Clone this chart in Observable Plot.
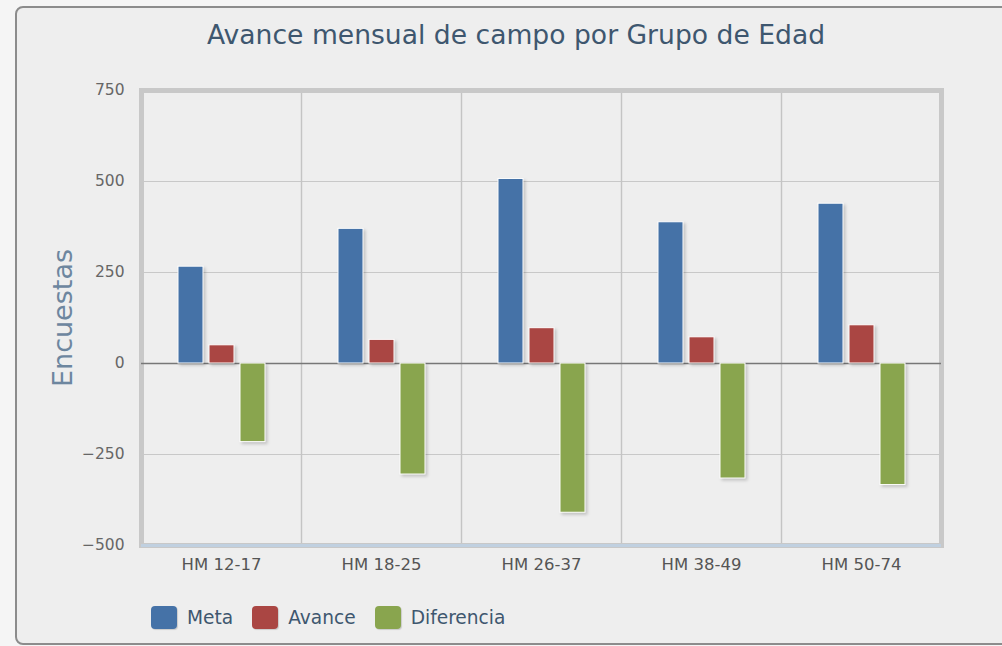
<!DOCTYPE html>
<html>
<head>
<meta charset="utf-8">
<script src="https://cdn.jsdelivr.net/npm/d3@7"></script>
<script src="https://cdn.jsdelivr.net/npm/@observablehq/plot@0.6"></script>
<style>
  html, body { margin: 0; padding: 0; width: 1002px; height: 646px; overflow: hidden; background: #f5f5f5; }
  #panel { position: absolute; left: 15px; top: 6px; width: 1010px; height: 635px; border: 2px solid #8c8c8c; border-radius: 8px; background: #eeeeee; }
  #title { position: absolute; left: 30px; width: 972px; top: 20px; text-align: center; font-family: "DejaVu Sans", sans-serif; font-size: 26.6px; line-height: 30px; color: #3E576F; }
  #ylabel { position: absolute; left: 62px; top: 318px; transform: translate(-50%, -50%) rotate(-90deg); font-family: "DejaVu Sans", sans-serif; font-size: 27px; color: #6D869F; white-space: nowrap; }
  #chart { position: absolute; left: 0; top: 0; }
  #legend { position: absolute; left: 151px; top: 606px; display: flex; align-items: center; font-family: "DejaVu Sans", sans-serif; font-size: 18.6px; color: #3E576F; }
  .item { display: flex; align-items: center; margin-right: 19px; }
  .sw { width: 26px; height: 23px; border-radius: 4px; margin-right: 10px; box-shadow: 1px 1px 1px rgba(0,0,0,0.15); }
</style>
</head>
<body>
<div id="panel"></div>
<div id="title"></div>
<div id="ylabel"></div>
<div id="chart"></div>
<div id="legend"></div>
<script>
const titleText = "Avance mensual de campo por Grupo de Edad";
const yLabel = "Encuestas";
const grupos = ["HM 12-17", "HM 18-25", "HM 26-37", "HM 38-49", "HM 50-74"];
const series = ["Meta", "Avance", "Diferencia"];
const colores = ["#4572A7", "#AA4643", "#89A54E"];
const meta = [266, 370, 507, 388, 439];
const avance = [50, 65, 97, 72, 105];
const diferencia = [-216, -305, -410, -316, -334];
const yTicks = [-500, -250, 0, 250, 500, 750];

const valores = [meta, avance, diferencia];
const data = [];
grupos.forEach((g, i) => series.forEach((s, j) => data.push({grupo: g, serie: s, valor: valores[j][i]})));

document.getElementById("title").textContent = titleText;
document.getElementById("ylabel").textContent = yLabel;

const chart = Plot.plot({
  width: 1002,
  height: 600,
  marginTop: 90,
  marginBottom: 55,
  marginLeft: 141,
  marginRight: 61,
  style: {fontFamily: "DejaVu Sans, sans-serif", fontSize: "15px", background: "transparent", color: "#666"},
  fx: {domain: grupos, padding: 0, label: null, axis: null},
  x: {domain: series, paddingInner: 0.2, paddingOuter: 1.16, axis: null},
  y: {domain: [-500, 750], ticks: yTicks, axis: null},
  color: {domain: series, range: colores},
  marks: [
    Plot.gridY(yTicks, {stroke: "#c8c8c8", strokeOpacity: 1, strokeWidth: 1.2}),
    Plot.frame({stroke: "#c4c4c4", strokeWidth: 1.2}),
    Plot.frame({facet: "super", stroke: "#c8c8c8", strokeWidth: 5}),
    Plot.ruleY([-500], {stroke: "#c0d0e0", strokeWidth: 3}),
    Plot.ruleY([0], {stroke: "#777777", strokeWidth: 1.3}),
    Plot.barY(data, {fx: "grupo", x: "serie", y: "valor", fill: "serie", stroke: "white", strokeWidth: 1}),
    Plot.axisY({ticks: yTicks, tickSize: 0, tickPadding: 17, fontSize: 15.5, fill: "#666", label: null, facetAnchor: "left"}),
    Plot.axisFx({anchor: "bottom", tickSize: 0, tickPadding: 13, fontSize: 16.5, fill: "#555", label: null})
  ]
});
document.getElementById("chart").appendChild(chart);
d3.select(chart).selectAll("g[aria-label='bar'] rect")
  .style("filter", "drop-shadow(2px 2px 1.5px rgba(0,0,0,0.18))");

const legend = d3.select("#legend");
series.forEach((s, j) => {
  const it = legend.append("div").attr("class", "item");
  it.append("div").attr("class", "sw").style("background", colores[j]);
  it.append("span").text(s);
});
</script>
</body>
</html>
